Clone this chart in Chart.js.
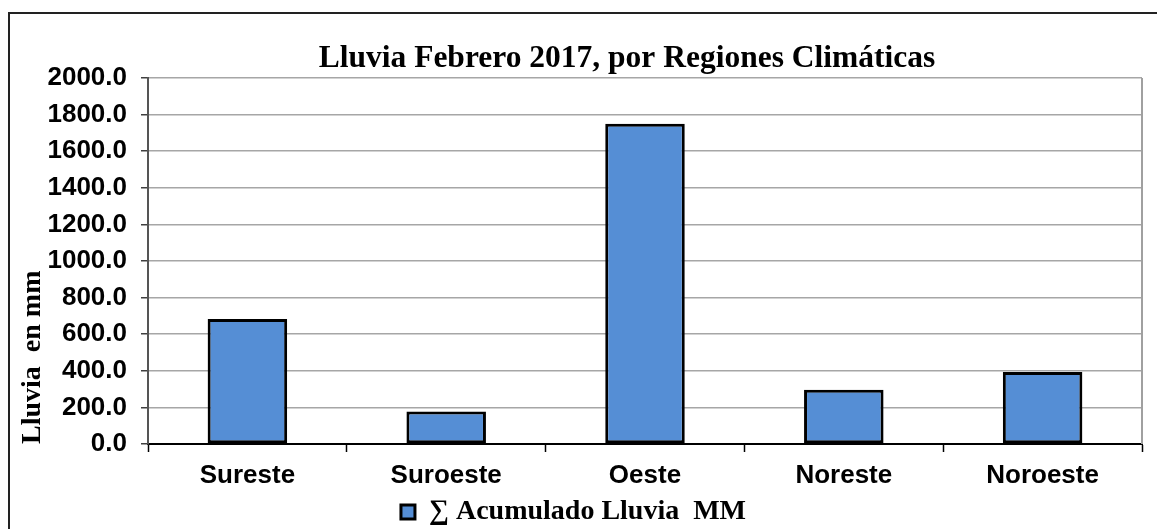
<!DOCTYPE html>
<html>
<head>
<meta charset="utf-8">
<script src="https://cdn.jsdelivr.net/npm/chart.js@4.4.1/dist/chart.umd.min.js"></script>
<style>
html, body { margin: 0; padding: 0; background: #fff; overflow: hidden; }
#frame { position: absolute; left: 8px; top: 12px; width: 1300px; height: 700px; border: 2px solid #222; }
#wrap { position: absolute; left: 0; top: 0; width: 1157px; height: 529px; }
</style>
</head>
<body>
<div id="frame"></div>
<div id="wrap"><canvas id="myChart" width="1157" height="529"></canvas></div>
<script>
// data
const categories = ['Sureste', 'Suroeste', 'Oeste', 'Noreste', 'Noroeste'];
const rainfall = [683, 177, 1750, 296, 394];
const seriesName = '\u2211 Acumulado Lluvia  MM';
const chartTitle = 'Lluvia Febrero 2017, por Regiones Climáticas';
const yTitle = 'Lluvia  en mm';
const yMin = 0, yMax = 2000, yStep = 200;

const sansBold = { family: '"Liberation Sans", Arial, sans-serif', size: 26, weight: 'bold' };
const serifBold = { family: '"Liberation Serif", "Times New Roman", serif', size: 28, weight: 'bold' };

// title sits a bit off-centre in the original, plus grey right edge of the plot box
const framePlugin = {
    id: 'framePlugin',
    beforeDatasetsDraw(chart) {
        const ctx = chart.ctx, a = chart.chartArea;
        ctx.save();
        ctx.strokeStyle = '#a0a0a0';
        ctx.lineWidth = 2;
        ctx.beginPath();
        ctx.moveTo(a.right, a.top);
        ctx.lineTo(a.right, a.bottom);
        ctx.stroke();
        ctx.restore();
    },
    afterDraw(chart) {
        const ctx = chart.ctx;
        ctx.save();
        ctx.font = 'bold 31.5px "Liberation Serif", "Times New Roman", serif';
        ctx.fillStyle = '#000';
        ctx.textAlign = 'center';
        ctx.textBaseline = 'alphabetic';
        ctx.fillText(chartTitle, 627, 67);
        ctx.restore();
    }
};

var ctx = document.getElementById('myChart').getContext('2d');
var myChart = new Chart(ctx, {
    type: 'bar',
    data: {
        labels: categories,
        datasets: [{
            label: seriesName,
            data: rainfall,
            backgroundColor: '#558ed5',
            borderColor: '#000',
            borderWidth: 3,
            borderSkipped: false,
            barPercentage: 0.8,
            categoryPercentage: 0.5
        }]
    },
    options: {
        responsive: false,
        animation: false,
        layout: { padding: { left: 5, right: 15, top: 78, bottom: -7 } },
        plugins: {
            title: { display: false },
            tooltip: { enabled: false },
            legend: {
                position: 'bottom',
                labels: {
                    boxWidth: 14,
                    boxHeight: 14,
                    color: '#000',
                    font: serifBold,
                    padding: 0
                }
            }
        },
        scales: {
            x: {
                grid: { display: true, drawOnChartArea: false, offset: true, tickLength: 8, tickColor: '#000', tickWidth: 1.5 },
                border: { display: true, color: '#000', width: 2 },
                ticks: { color: '#000', font: sansBold, padding: 8, maxRotation: 0 },
                afterFit(scale) { scale.height = 54; }
            },
            y: {
                min: yMin,
                max: yMax,
                ticks: {
                    stepSize: yStep,
                    color: '#000',
                    font: sansBold,
                    padding: 14,
                    callback: v => v.toFixed(1)
                },
                grid: { color: '#a6a6a6', lineWidth: 1.5, tickLength: 7, tickColor: '#404040' },
                border: { color: '#555', width: 2 },
                title: { display: true, text: yTitle, align: 'start', color: '#000', font: serifBold, padding: { top: 11, bottom: 0 } },
                afterFit(scale) { scale.width = 143; }
            }
        }
    },
    plugins: [framePlugin]
});
</script>
</body>
</html>
